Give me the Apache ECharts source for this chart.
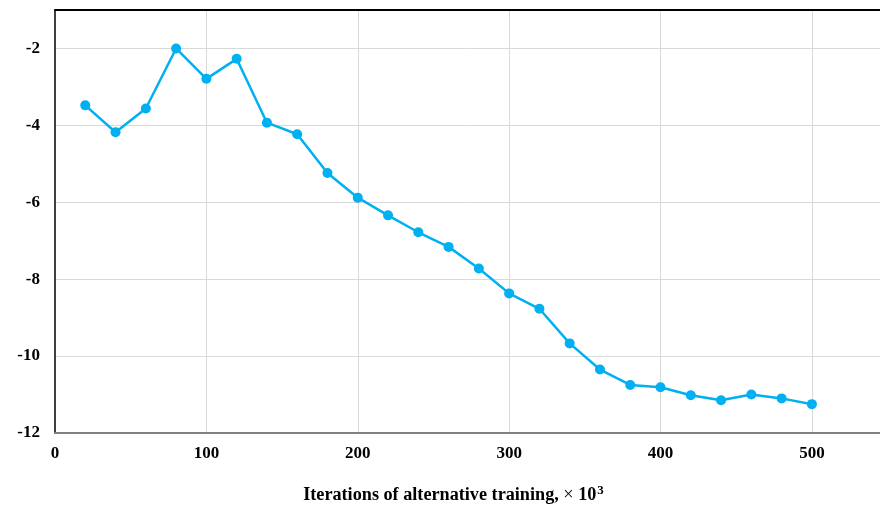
<!DOCTYPE html>
<html><head><meta charset="utf-8">
<script src="https://cdn.jsdelivr.net/npm/echarts@6/dist/echarts.min.js"></script>
<style>html,body{margin:0;padding:0;background:#fff}#c{width:880px;height:508px}</style>
</head><body><div id="c"></div>
<script>
const iterations = [20,40,60,80,100,120,140,160,180,200,220,240,260,280,300,320,340,360,380,400,420,440,460,480,500];
const values = [-3.48,-4.18,-3.56,-2.0,-2.79,-2.27,-3.93,-4.23,-5.24,-5.88,-6.34,-6.78,-7.16,-7.72,-8.37,-8.77,-9.67,-10.35,-10.75,-10.81,-11.02,-11.15,-11.0,-11.1,-11.25];
const xTicks = [0,100,200,300,400,500];
const yTicks = [-12,-10,-8,-6,-4,-2];
const xName = 'Iterations of alternative training, ';

const font = '"Liberation Serif", "Times New Roman", serif';
const chart = echarts.init(document.getElementById('c'));
chart.setOption({
  animation: false,
  grid: {left: 55, right: 0, top: 10, bottom: 75, containLabel: false, outerBoundsMode: 'none'},
  xAxis: [{
    type: 'value', min: 0, max: 545, interval: 100,
    axisLine: {show: true, lineStyle: {color: '#808080', width: 2}},
    axisTick: {show: false},
    splitLine: {show: true, showMinLine: false, showMaxLine: false, lineStyle: {color: '#d9d9d9', width: 1}},
    axisLabel: {fontFamily: font, fontWeight: 'bold', fontSize: 17, color: '#000', margin: 12,
      formatter: v => xTicks.includes(v) ? String(v) : ''},
    name: '{a|' + xName + '}{m|×}{b| 10}{c|3}',
    nameLocation: 'middle', nameGap: 51,
    nameTextStyle: {padding: [0, 28, 0, 0], rich: {
      a: {fontFamily: font, fontWeight: 'bold', fontSize: 18.2, color: '#000'},
      m: {fontFamily: font, fontWeight: 'normal', fontSize: 18.2, color: '#000'},
      b: {fontFamily: font, fontWeight: 'bold', fontSize: 18.2, color: '#000'},
      c: {fontFamily: font, fontWeight: 'bold', fontSize: 13, color: '#000', verticalAlign: 'top', padding: [0,0,9,1]}
    }}
  }, {
    type: 'value', min: 0, max: 545, position: 'top',
    axisLine: {show: true, lineStyle: {color: '#000', width: 2}},
    axisTick: {show: false}, axisLabel: {show: false}, splitLine: {show: false}
  }],
  yAxis: {
    type: 'value', min: -12, max: -1, interval: 2,
    axisLine: {show: true, lineStyle: {color: '#000', width: 1.5}},
    axisTick: {show: false},
    splitLine: {show: true, showMinLine: false, showMaxLine: false, lineStyle: {color: '#d9d9d9', width: 1}},
    axisLabel: {fontFamily: font, fontWeight: 'bold', fontSize: 17, color: '#000', margin: 15,
      formatter: v => yTicks.includes(v) ? String(v) : ''}
  },
  series: [{
    type: 'line', xAxisIndex: 0,
    data: iterations.map((x, i) => [x, values[i]]),
    symbol: 'circle', symbolSize: 10,
    lineStyle: {color: '#00B0F0', width: 2.5},
    itemStyle: {color: '#00B0F0'}
  }]
});
</script></body></html>
